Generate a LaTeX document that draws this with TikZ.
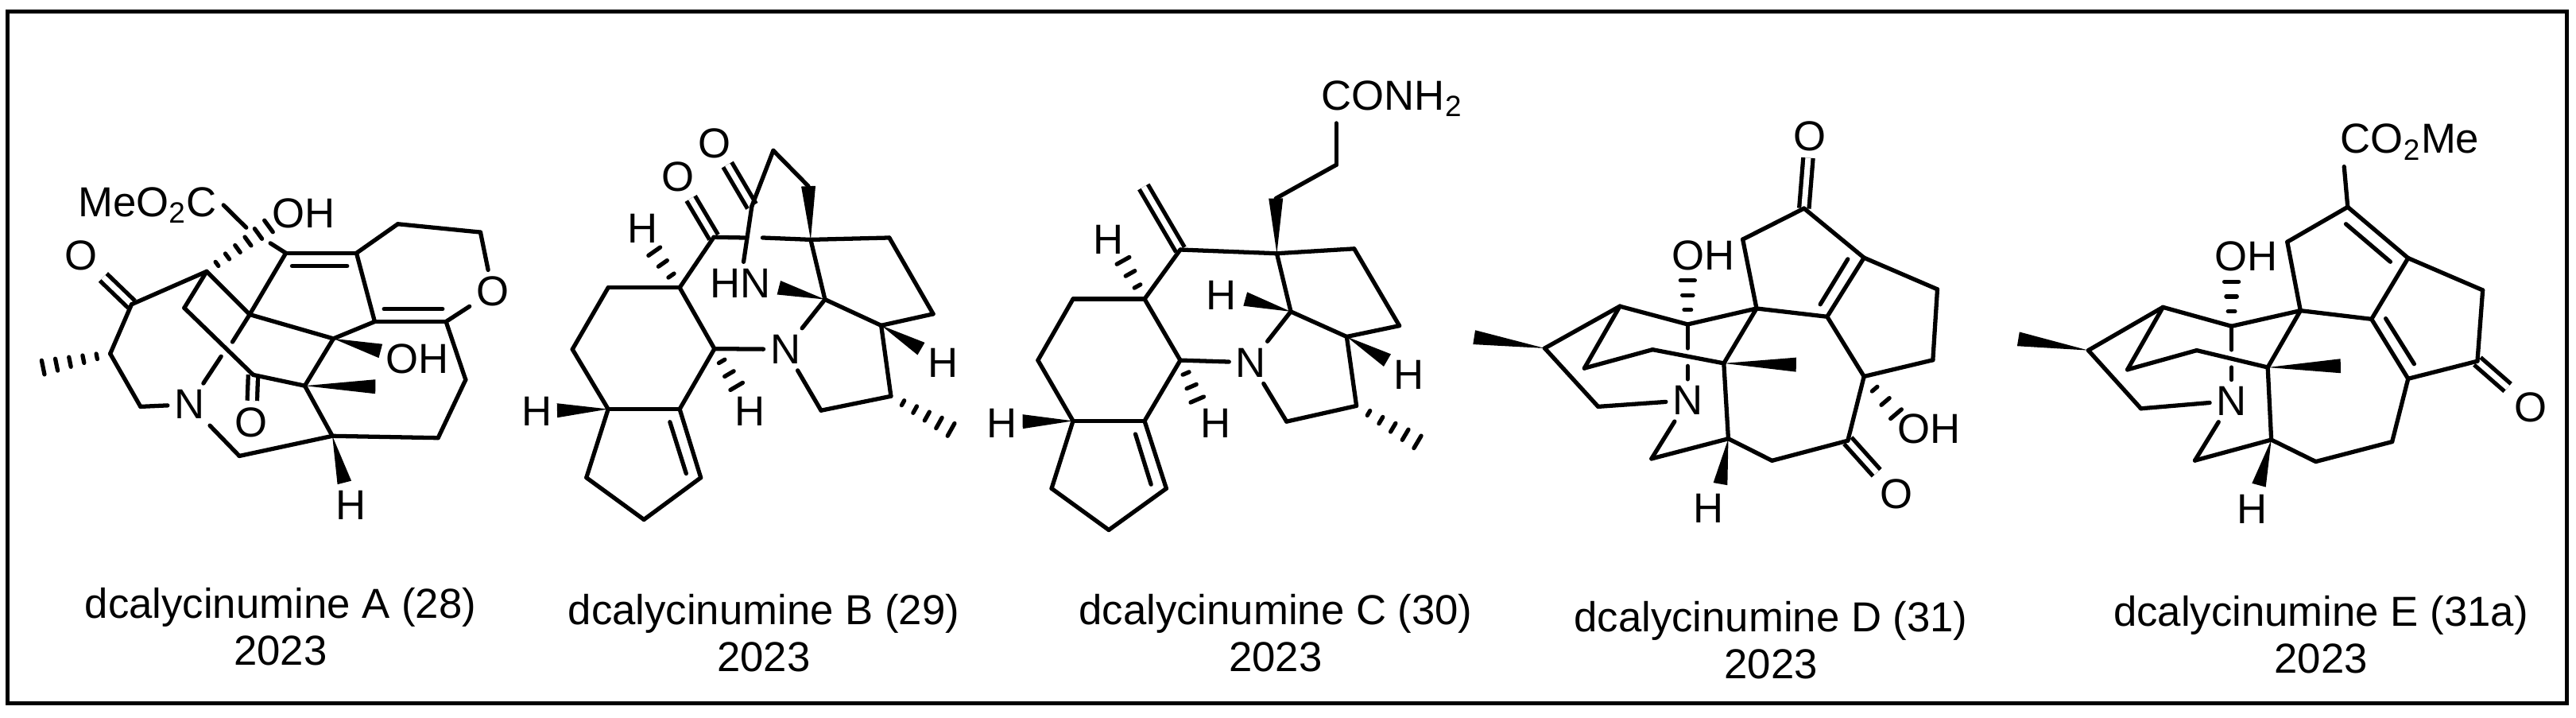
\documentclass[tikz,border=0pt]{standalone}
\usepackage{fontspec}
\setmainfont{Liberation Sans}
\usetikzlibrary{calc}
\newcommand{\chemsize}{\fontsize{15}{16.6}\selectfont}
\newcommand{\wedgebond}[2]{\fill (#1) -- ($(#2)!0.09cm!90:(#1)$) -- ($(#2)!0.09cm!-90:(#1)$) -- cycle;}
\newcommand{\hashbond}[3]{
	\foreach \n in {1,...,#3}{
		\pgfmathsetmacro{\hw}{0.02+0.07*\n/#3}
		\draw[hash] ($(#1)!\n/#3!(#2)!\hw cm!90:(#1)$) -- ($(#1)!\n/#3!(#2)!\hw cm!-90:(#1)$);
	}
}
\tikzset{
	atom/.style={inner sep=2.2pt,font=\chemsize},
	bond/.style={line width=1.5pt,line cap=round},
	dbond/.style={line width=1.5pt,double,double distance=2pt},
	hash/.style={line width=1.5pt,line cap=round},
	caption/.style={align=center,font=\chemsize},
	frame/.style={line width=0.05cm},
}
\begin{document}
\begin{tikzpicture}
	\useasboundingbox (0,0) rectangle (32.41,-9.02);
	\draw[frame] (0.095,-0.145) rectangle (32.295,-8.845);

	\begin{scope}[shift={(0cm,-1.5cm)},x=0.004337cm,y=-0.003444cm]
		\coordinate (a1) at (382,675);
		\coordinate (a2) at (600,555);
		\coordinate (a3) at (320,855);
		\coordinate (a4) at (408,1048);
		\coordinate (a6) at (830,488);
		\coordinate (a7) at (725,712);
		\coordinate (a8) at (535,688);
		\coordinate (a9) at (735,932);
		\coordinate (a10) at (885,972);
		\coordinate (a11) at (968,800);
		\coordinate (a12) at (1088,738);
		\coordinate (a13) at (1295,738);
		\coordinate (a14) at (1035,488);
		\coordinate (a15) at (1155,382);
		\coordinate (a16) at (1395,412);
		\coordinate (a17) at (1352,950);
		\coordinate (a18) at (1272,1162);
		\coordinate (a19) at (965,1155);
		\coordinate (a20) at (695,1228);
		\coordinate (a21) at (125,905);
		\coordinate (a22) at (780,390);
		\coordinate (a23) at (785,452);
		\coordinate (a24) at (715,395);
		\coordinate (a25) at (675,812);
		\coordinate (a26) at (642,865);
		\coordinate (a27) at (1090,975);
		\coordinate (a28) at (1105,845);
		\coordinate (a29) at (1000,1325);
		\coordinate (a30) at (848,535);
		\coordinate (a31) at (1008,535);
		\coordinate (a32) at (1115,692);
		\coordinate (a33) at (1285,692);
		\node[atom] (aMe) at (428,313) {MeO\textsubscript{2}C};
		\node[atom] (aOH1) at (882,343) {OH};
		\node[atom] (aOH2) at (1212,875) {OH};
		\node[atom] (aO1) at (235,497) {O};
		\node[atom] (aO2) at (730,1105) {O};
		\node[atom] (aO3) at (1430,628) {O};
		\node[atom] (aN) at (550,1040) {N};
		\node[atom] (aH) at (1018,1408) {H};

		\draw[dbond] (a1) to (aO1);
		\draw[dbond] (a9) to (aO2);
		\draw[bond] (a1) to (a2);
		\draw[bond] (a1) to (a3);
		\draw[bond] (a3) to (a4);
		\draw[bond] (a4) to (aN);
		\draw[bond] (aN) to (a26);
		\draw[bond] (a25) to (a7);
		\draw[bond] (a7) to (a6);
		\draw[bond] (a2) to (a7);
		\draw[bond] (a2) to (a8);
		\draw[bond] (a8) to (a9);
		\draw[bond] (a9) to (a10);
		\draw[bond] (a10) to (a11);
		\draw[bond] (a11) to (a7);
		\draw[bond] (a11) to (a12);
		\draw[bond] (a12) to (a13);
		\draw[bond] (a32) to (a33);
		\draw[bond] (a12) to (a14);
		\draw[bond] (a14) to (a6);
		\draw[bond] (a30) to (a31);
		\draw[bond] (a14) to (a15);
		\draw[bond] (a15) to (a16);
		\draw[bond] (a16) to (aO3);
		\draw[bond] (a13) to (aO3);
		\draw[bond] (a13) to (a17);
		\draw[bond] (a17) to (a18);
		\draw[bond] (a18) to (a19);
		\draw[bond] (a19) to (a10);
		\draw[bond] (a19) to (a20);
		\draw[bond] (a20) to (aN);
		\draw[bond] (a6) to (a23);
		\draw[bond] (a24) to (aMe.east);
		\wedgebond{a10}{a27}
		\wedgebond{a11}{a28}
		\wedgebond{a19}{a29}
		\hashbond{a3}{a21}{5}
		\hashbond{a2}{a22}{6}
	\end{scope}

	\begin{scope}[shift={(6.2cm,-1.3cm)},x=0.004082cm,y=-0.003444cm]
		\coordinate (b1) at (355,672);
		\coordinate (b2) at (575,672);
		\coordinate (b3) at (682,895);
		\coordinate (b4) at (575,1115);
		\coordinate (b5) at (355,1115);
		\coordinate (b6) at (245,897);
		\coordinate (b7) at (288,1365);
		\coordinate (b8) at (465,1518);
		\coordinate (b9) at (640,1365);
		\coordinate (b10) at (680,488);
		\coordinate (b11) at (1022,715);
		\coordinate (b12) at (1195,810);
		\coordinate (b13) at (1355,768);
		\coordinate (b14) at (1220,490);
		\coordinate (b15) at (978,497);
		\coordinate (b16) at (971,302);
		\coordinate (b17) at (863,172);
		\coordinate (b18) at (797,375);
		\coordinate (b19) at (1225,1068);
		\coordinate (b20) at (1010,1120);
		\coordinate (b21) at (595,1350);
		\coordinate (b22) at (545,1162);
		\coordinate (b23) at (198,1120);
		\coordinate (b24) at (497,540);
		\coordinate (b25) at (750,1032);
		\coordinate (b26) at (880,672);
		\coordinate (b27) at (1318,895);
		\coordinate (b28) at (1410,1190);
		\coordinate (b29) at (830,490);
		\coordinate (b30) at (775,490);
		\node[atom] (bO1) at (570,268) {O};
		\node[atom] (bO2) at (683,145) {O};
		\node[atom] (bNH) at (762,655) {HN};
		\node[atom] (bN) at (900,897) {N};
		\node[atom] (bH1) at (137,1122) {H};
		\node[atom] (bH2) at (462,455) {H};
		\node[atom] (bH3) at (790,1122) {H};
		\node[atom] (bH4) at (1385,945) {H};

		\draw[dbond] (b10) to (bO1);
		\draw[dbond] (b18) to (bO2);
		\draw[bond] (b1) to (b2);
		\draw[bond] (b2) to (b3);
		\draw[bond] (b3) to (b4);
		\draw[bond] (b4) to (b5);
		\draw[bond] (b5) to (b6);
		\draw[bond] (b6) to (b1);
		\draw[bond] (b5) to (b7);
		\draw[bond] (b7) to (b8);
		\draw[bond] (b8) to (b9);
		\draw[bond] (b9) to (b4);
		\draw[bond] (b21) to (b22);
		\draw[bond] (b2) to (b10);
		\draw[bond] (b10) to (b30);
		\draw[bond] (b29) to (b15);
		\draw[bond] (b3) to (bN);
		\draw[bond] (bN) to (b11);
		\draw[bond] (b11) to (b12);
		\draw[bond] (b12) to (b13);
		\draw[bond] (b13) to (b14);
		\draw[bond] (b14) to (b15);
		\draw[bond] (b15) to (b11);
		\draw[bond] (b16) to (b17);
		\draw[bond] (b17) to (b18);
		\draw[bond] (b18) to (bNH);
		\draw[bond] (b12) to (b19);
		\draw[bond] (b19) to (b20);
		\draw[bond] (b20) to (bN);
		\wedgebond{b5}{b23}
		\wedgebond{b11}{b26}
		\wedgebond{b15}{b16}
		\wedgebond{b12}{b27}
		\hashbond{b2}{b24}{3}
		\hashbond{b3}{b25}{3}
		\hashbond{b19}{b28}{5}
	\end{scope}

	\begin{scope}[shift={(12.2cm,-0.5cm)},x=0.004082cm,y=-0.003954cm]
		\coordinate (c1) at (318,825);
		\coordinate (c2) at (538,825);
		\coordinate (c3) at (648,1020);
		\coordinate (c4) at (538,1213);
		\coordinate (c5) at (318,1213);
		\coordinate (c6) at (210,1020);
		\coordinate (c7) at (252,1428);
		\coordinate (c8) at (428,1560);
		\coordinate (c9) at (605,1428);
		\coordinate (c10) at (648,668);
		\coordinate (c11) at (945,680);
		\coordinate (c12) at (1183,665);
		\coordinate (c13) at (1322,910);
		\coordinate (c14) at (1160,945);
		\coordinate (c15) at (988,865);
		\coordinate (c16) at (1190,1165);
		\coordinate (c17) at (975,1215);
		\coordinate (c18) at (942,505);
		\coordinate (c19) at (1128,398);
		\coordinate (c20) at (535,468);
		\coordinate (c21) at (558,1415);
		\coordinate (c22) at (510,1255);
		\coordinate (c23) at (163,1215);
		\coordinate (c24) at (472,703);
		\coordinate (c25) at (700,1145);
		\coordinate (c26) at (848,825);
		\coordinate (c27) at (1285,1020);
		\coordinate (c28) at (1378,1280);
		\node[atom] (cCO) at (1300,187) {CONH\textsubscript{2}};
		\node[atom] (cN) at (865,1027) {N};
		\node[atom] (cH1) at (100,1220) {H};
		\node[atom] (cH2) at (428,635) {H};
		\node[atom] (cH3) at (757,1220) {H};
		\node[atom] (cH4) at (775,812) {H};
		\node[atom] (cH5) at (1350,1065) {H};

		\draw[dbond] (c10) to (c20);
		\draw[bond] (c1) to (c2);
		\draw[bond] (c2) to (c3);
		\draw[bond] (c3) to (c4);
		\draw[bond] (c4) to (c5);
		\draw[bond] (c5) to (c6);
		\draw[bond] (c6) to (c1);
		\draw[bond] (c5) to (c7);
		\draw[bond] (c7) to (c8);
		\draw[bond] (c8) to (c9);
		\draw[bond] (c9) to (c4);
		\draw[bond] (c21) to (c22);
		\draw[bond] (c2) to (c10);
		\draw[bond] (c10) to (c11);
		\draw[bond] (c11) to (c12);
		\draw[bond] (c12) to (c13);
		\draw[bond] (c13) to (c14);
		\draw[bond] (c14) to (c15);
		\draw[bond] (c15) to (c11);
		\draw[bond] (c3) to (cN);
		\draw[bond] (c15) to (cN);
		\draw[bond] (c14) to (c16);
		\draw[bond] (c16) to (c17);
		\draw[bond] (c17) to (cN);
		\draw[bond] (c18) to (c19);
		\draw[bond] (c19) to (c19 |- cCO.south);
		\wedgebond{c5}{c23}
		\wedgebond{c15}{c26}
		\wedgebond{c14}{c27}
		\wedgebond{c11}{c18}
		\hashbond{c2}{c24}{3}
		\hashbond{c3}{c25}{3}
		\hashbond{c16}{c28}{5}
	\end{scope}

	\begin{scope}[shift={(18.2cm,-1.5cm)},x=0.004337cm,y=-0.003444cm]
		\coordinate (d1) at (285,835);
		\coordinate (d2) at (503,682);
		\coordinate (d3) at (700,748);
		\coordinate (d4) at (900,690);
		\coordinate (d5) at (1105,720);
		\coordinate (d6) at (1212,505);
		\coordinate (d7) at (1038,325);
		\coordinate (d8) at (860,438);
		\coordinate (d9) at (1425,620);
		\coordinate (d10) at (1412,878);
		\coordinate (d11) at (1212,938);
		\coordinate (d12) at (1165,1172);
		\coordinate (d13) at (945,1245);
		\coordinate (d14) at (818,1165);
		\coordinate (d15) at (595,1238);
		\coordinate (d16) at (805,890);
		\coordinate (d17) at (598,840);
		\coordinate (d18) at (400,908);
		\coordinate (d19) at (440,1048);
		\coordinate (d20) at (80,795);
		\coordinate (d21) at (1085,675);
		\coordinate (d22) at (1165,510);
		\coordinate (d23) at (700,835);
		\coordinate (d24) at (700,900);
		\coordinate (d25) at (700,588);
		\coordinate (d26) at (1305,1075);
		\coordinate (d27) at (795,1330);
		\coordinate (d28) at (1015,895);
		\node[atom] (dO1) at (1055,62) {O};
		\node[atom] (dO2) at (1305,1368) {O};
		\node[atom] (dOH1) at (745,497) {OH};
		\node[atom] (dOH2) at (1400,1128) {OH};
		\node[atom] (dN) at (700,1025) {N};
		\node[atom] (dH) at (760,1420) {H};

		\draw[dbond] (d7) to (dO1);
		\draw[dbond] (d12) to (dO2);
		\draw[bond] (d1) to (d2);
		\draw[bond] (d2) to (d3);
		\draw[bond] (d3) to (d4);
		\draw[bond] (d4) to (d5);
		\draw[bond] (d5) to (d6);
		\draw[bond] (d21) to (d22);
		\draw[bond] (d6) to (d7);
		\draw[bond] (d7) to (d8);
		\draw[bond] (d8) to (d4);
		\draw[bond] (d6) to (d9);
		\draw[bond] (d9) to (d10);
		\draw[bond] (d10) to (d11);
		\draw[bond] (d11) to (d5);
		\draw[bond] (d11) to (d12);
		\draw[bond] (d12) to (d13);
		\draw[bond] (d13) to (d14);
		\draw[bond] (d14) to (d15);
		\draw[bond] (d15) to (dN);
		\draw[bond] (d14) to (d16);
		\draw[bond] (d16) to (d4);
		\draw[bond] (d16) to (d17);
		\draw[bond] (d17) to (d18);
		\draw[bond] (d18) to (d2);
		\draw[bond] (d1) to (d19);
		\draw[bond] (d19) to (dN);
		\draw[bond] (d3) to (d23);
		\draw[bond] (d24) to (dN);
		\wedgebond{d1}{d20}
		\wedgebond{d14}{d27}
		\wedgebond{d16}{d28}
		\hashbond{d3}{d25}{3}
		\hashbond{d11}{d26}{3}
	\end{scope}

	\begin{scope}[shift={(25cm,-1.3cm)},x=0.004464cm,y=-0.003571cm]
		\coordinate (e1) at (285,870);
		\coordinate (e2) at (495,718);
		\coordinate (e3) at (688,785);
		\coordinate (e4) at (882,730);
		\coordinate (e5) at (1082,760);
		\coordinate (e6) at (1185,970);
		\coordinate (e7) at (1380,908);
		\coordinate (e8) at (1395,658);
		\coordinate (e9) at (1185,545);
		\coordinate (e10) at (1015,365);
		\coordinate (e11) at (845,488);
		\coordinate (e12) at (1140,1192);
		\coordinate (e13) at (925,1262);
		\coordinate (e14) at (800,1185);
		\coordinate (e15) at (585,1258);
		\coordinate (e16) at (790,930);
		\coordinate (e17) at (590,870);
		\coordinate (e18) at (395,938);
		\coordinate (e19) at (433,1075);
		\coordinate (e20) at (88,830);
		\coordinate (e21) at (1122,758);
		\coordinate (e22) at (1202,918);
		\coordinate (e23) at (1135,558);
		\coordinate (e24) at (1010,425);
		\coordinate (e25) at (688,868);
		\coordinate (e26) at (688,930);
		\coordinate (e27) at (688,628);
		\coordinate (e28) at (765,1345);
		\coordinate (e29) at (995,925);
		\node[atom] (eCO) at (1190,136) {CO\textsubscript{2}Me};
		\node[atom] (eO) at (1530,1072) {O};
		\node[atom] (eOH) at (730,540) {OH};
		\node[atom] (eN) at (688,1048) {N};
		\node[atom] (eH) at (745,1430) {H};

		\draw[dbond] (e7) to (eO);
		\draw[bond] (e1) to (e2);
		\draw[bond] (e2) to (e3);
		\draw[bond] (e3) to (e4);
		\draw[bond] (e4) to (e5);
		\draw[bond] (e5) to (e6);
		\draw[bond] (e21) to (e22);
		\draw[bond] (e6) to (e7);
		\draw[bond] (e7) to (e8);
		\draw[bond] (e8) to (e9);
		\draw[bond] (e9) to (e5);
		\draw[bond] (e9) to (e10);
		\draw[bond] (e23) to (e24);
		\draw[bond] (e10) to (e11);
		\draw[bond] (e11) to (e4);
		\draw[bond] (e10) to ([xshift=0.13cm]eCO.south west);
		\draw[bond] (e6) to (e12);
		\draw[bond] (e12) to (e13);
		\draw[bond] (e13) to (e14);
		\draw[bond] (e14) to (e15);
		\draw[bond] (e15) to (eN);
		\draw[bond] (e14) to (e16);
		\draw[bond] (e16) to (e4);
		\draw[bond] (e16) to (e17);
		\draw[bond] (e17) to (e18);
		\draw[bond] (e18) to (e2);
		\draw[bond] (e1) to (e19);
		\draw[bond] (e19) to (eN);
		\draw[bond] (e3) to (e25);
		\draw[bond] (e26) to (eN);
		\wedgebond{e1}{e20}
		\wedgebond{e14}{e28}
		\wedgebond{e16}{e29}
		\hashbond{e3}{e27}{3}
	\end{scope}

	\node[caption] (capA) at (3.53,-7.88) {dcalycinumine A (28)\\2023};
	\node[caption] (capB) at (9.61,-7.96) {dcalycinumine B (29)\\2023};
	\node[caption] (capC) at (16.05,-7.96) {dcalycinumine C (30)\\2023};
	\node[caption] (capD) at (22.28,-8.05) {dcalycinumine D (31)\\2023};
	\node[caption] (capE) at (29.20,-7.98) {dcalycinumine E (31a)\\2023};
\end{tikzpicture}
\end{document}
